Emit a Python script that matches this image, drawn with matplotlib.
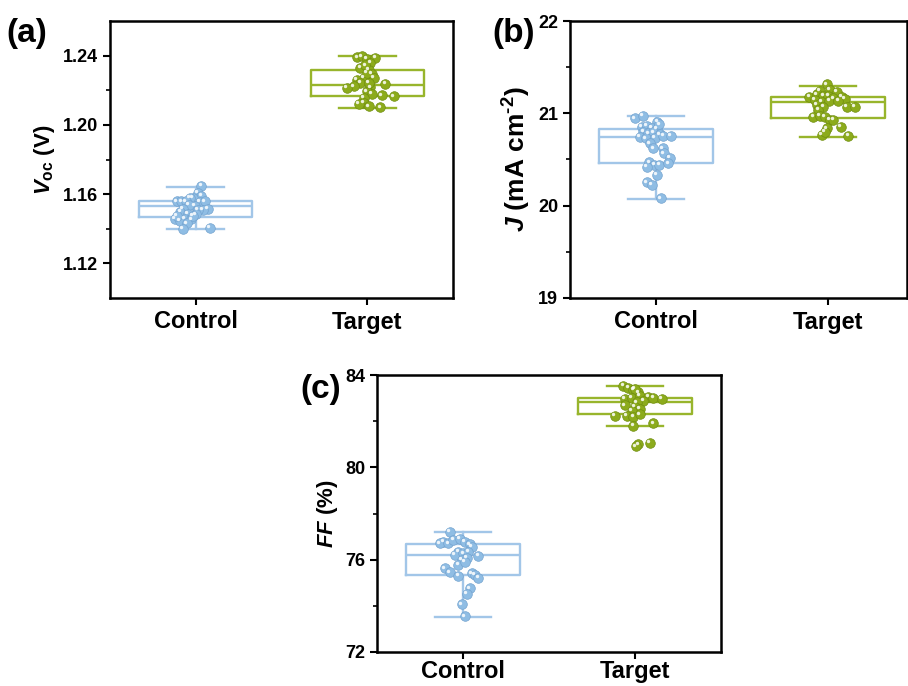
import matplotlib
matplotlib.use('Agg')
import matplotlib.pyplot as plt
import matplotlib.transforms as mtransforms
from matplotlib.ticker import FormatStrFormatter
import numpy as np

plt.rcParams['font.family'] = ['Liberation Sans', 'DejaVu Sans']
plt.rcParams['font.weight'] = 'bold'
plt.rcParams['mathtext.fontset'] = 'custom'
plt.rcParams['mathtext.rm'] = 'Liberation Sans:bold'
plt.rcParams['mathtext.it'] = 'Liberation Sans:bold:italic'
plt.rcParams['mathtext.bf'] = 'Liberation Sans:bold'

groups = ['Control', 'Target']

# (a) Voc, values and horizontal jitter
voc_ctrl = [1.1646, 1.1608, 1.1592, 1.1579, 1.1579, 1.1559, 1.1559, 1.1559, 1.1554, 1.1559,
            1.1534, 1.1540, 1.1515, 1.1515, 1.1508, 1.1511, 1.1496, 1.1488, 1.1483, 1.1459,
            1.1458, 1.1454, 1.1444, 1.1431, 1.1400, 1.1406, 1.1473, 1.1473]
voc_ctrl_dx = [0.033, 0.014, 0.033, -0.016, -0.035, -0.109, -0.084, -0.058, 0.023, 0.053,
               -0.006, -0.039, -0.074, 0.072, 0.043, 0.014, -0.090, -0.045, 0.0, -0.123,
               -0.064, -0.025, -0.094, -0.051, -0.074, 0.082, -0.016, -0.109]
voc_targ = [1.2390, 1.2396, 1.2383, 1.2387, 1.2358, 1.2329, 1.2319, 1.2294, 1.2271, 1.2262,
            1.2271, 1.2242, 1.2237, 1.2223, 1.2214, 1.2217, 1.2194, 1.2179, 1.2156, 1.2171,
            1.2165, 1.2127, 1.2121, 1.2107, 1.2102, 1.2344, 1.2300, 1.2242]
voc_targ_dx = [-0.057, -0.031, -0.002, 0.047, 0.018, -0.041, 0.008, 0.027, -0.021, -0.060,
               0.037, -0.041, 0.105, -0.080, -0.119, 0.018, -0.002, 0.027, -0.021, 0.086,
               0.154, -0.021, -0.051, 0.008, 0.076, -0.012, -0.002, 0.008]
# whislo, q1, median, q3, whishi
voc_box = [[1.1400, 1.1468, 1.1532, 1.1563, 1.1641],
           [1.2100, 1.2166, 1.2233, 1.2316, 1.2400]]

# (b) Jsc
j_ctrl = [20.947, 20.976, 20.910, 20.856, 20.867, 20.845, 20.831, 20.882, 20.802, 20.785,
          20.795, 20.774, 20.748, 20.730, 20.737, 20.759, 20.759, 20.676, 20.622, 20.622,
          20.568, 20.521, 20.471, 20.442, 20.423, 20.442, 20.460, 20.333, 20.254, 20.225,
          20.081]
j_ctrl_dx = [-0.122, -0.078, 0.008, -0.083, -0.054, -0.025, 0.004, 0.019, -0.074, -0.045,
             -0.016, 0.023, -0.093, -0.058, -0.006, 0.043, 0.085, -0.035, -0.016, 0.039,
             0.047, 0.081, -0.039, -0.010, -0.054, 0.019, 0.072, 0.004, -0.054, -0.025,
             0.027]
j_targ = [21.315, 21.242, 21.253, 21.235, 21.181, 21.207, 21.192, 21.192, 21.163, 21.181,
          21.156, 21.145, 21.127, 21.134, 21.134, 21.073, 21.073, 21.091, 21.073, 21.037,
          20.964, 20.975, 20.964, 20.929, 20.929, 20.839, 20.856, 20.766, 20.755, 20.802]
j_targ_dx = [-0.008, -0.047, 0.012, 0.050, -0.109, -0.066, -0.027, 0.002, 0.031, 0.080,
             0.099, -0.076, -0.037, 0.008, 0.060, 0.109, 0.157, -0.066, -0.027, -0.056,
             -0.085, -0.047, -0.017, 0.012, 0.031, -0.008, 0.074, -0.037, 0.118, -0.017]
j_box = [[20.074, 20.460, 20.748, 20.828, 20.972],
         [20.748, 20.947, 21.127, 21.174, 21.297]]

# (c) FF
ff_ctrl = [77.21, 76.78, 76.71, 76.71, 76.85, 76.89, 76.78, 76.66, 76.56, 76.35,
           76.20, 76.27, 76.35, 75.99, 76.09, 76.17, 75.77, 75.92, 75.63, 75.45,
           75.31, 75.41, 75.34, 75.20, 74.76, 74.51, 74.07, 73.54]
ff_ctrl_dx = [-0.076, -0.114, -0.134, -0.085, -0.056, -0.017, 0.012, 0.041, 0.050, -0.027,
              -0.047, 0.002, 0.031, -0.008, 0.021, 0.089, -0.027, 0.012, -0.105, -0.076,
              -0.027, 0.050, 0.070, 0.089, 0.041, 0.021, -0.008, 0.012]
ff_targ = [83.54, 83.44, 83.35, 83.25, 83.40, 82.96, 83.01, 83.11, 83.04, 83.01,
           82.96, 82.89, 82.82, 82.68, 82.61, 82.53, 82.46, 82.24, 82.24, 82.20,
           82.29, 81.81, 81.91, 80.99, 81.05, 80.91]
ff_targ_dx = [-0.068, -0.039, -0.010, 0.019, 0.0, -0.058, -0.019, 0.029, 0.078, 0.107,
              0.155, 0.048, 0.010, -0.058, 0.0, 0.029, -0.019, -0.116, -0.048, -0.010,
              0.029, -0.010, 0.107, 0.019, 0.087, 0.006]
ff_box = [[73.51, 75.34, 76.20, 76.68, 77.18],
          [81.79, 82.32, 82.85, 83.01, 83.54]]

box_colors = ['#a2c6e8', '#98b52c']
dot_colors = ['#8fbde4', '#8cab1c']
dot_edges = ['#74a3cf', '#708e10']

fig = plt.figure(figsize=(9.08, 6.86), dpi=100)


def panel(rect, xmax, data, box, ylim, major, minor, ylabel, ylsize, fmt, xpad=4):
    ax = fig.add_axes(rect)
    for i, (lo, q1, med, q3, hi) in enumerate(box):
        st = dict(label=groups[i], whislo=lo, q1=q1, med=med, q3=q3, whishi=hi, fliers=[])
        lp = dict(color=box_colors[i], lw=1.7)
        ax.bxp([st], positions=[i + 1], widths=0.66, capwidths=0.33, showfliers=False,
               boxprops=lp, medianprops=lp, whiskerprops=lp, capprops=lp)
    hl = mtransforms.offset_copy(ax.transData, fig=fig, x=-1.2, y=1.2, units='points')
    for i, (vals, dx) in enumerate(data):
        x = i + 1 + np.array(dx)
        ax.scatter(x, vals, s=48, color=dot_colors[i], edgecolor=dot_edges[i],
                   linewidths=0.5, zorder=3)
        ax.scatter(x, vals, s=6, color='white', alpha=0.85, linewidths=0,
                   transform=hl, zorder=4)
    ax.set_xlim(0.5, xmax)
    ax.set_ylim(*ylim)
    ax.set_xticks([1, 2])
    ax.set_xticklabels(groups, fontsize=17, fontweight='bold')
    ax.set_yticks(major)
    ax.set_yticks(minor, minor=True)
    ax.yaxis.set_major_formatter(FormatStrFormatter(fmt))
    ax.tick_params(axis='both', which='major', direction='out', length=5, width=1.5,
                   labelsize=13)
    ax.tick_params(axis='x', labelsize=17, pad=xpad)
    ax.tick_params(axis='y', which='minor', direction='out', length=3, width=1.2)
    for sp in ax.spines.values():
        sp.set_linewidth(1.8)
    ax.set_ylabel(ylabel, fontsize=ylsize, fontweight='bold')
    return ax


ax_a = panel([110 / 908, 1 - 298 / 686, 343 / 908, 277 / 686], 2.5,
             [(voc_ctrl, voc_ctrl_dx), (voc_targ, voc_targ_dx)], voc_box,
             (1.10, 1.26), [1.12, 1.16, 1.20, 1.24], [1.14, 1.18, 1.22],
             r'$V_{\mathrm{oc}}$ (V)', 16, '%.2f')
ax_b = panel([570 / 908, 1 - 298 / 686, 337 / 908, 277 / 686], 2.46,
             [(j_ctrl, j_ctrl_dx), (j_targ, j_targ_dx)], j_box,
             (19, 22), [19, 20, 21, 22], [19.5, 20.5, 21.5],
             r'$J$ (mA cm$^{\text{-2}}$)', 19, '%d')
ax_c = panel([377 / 908, 1 - 652 / 686, 344 / 908, 277 / 686], 2.5,
             [(ff_ctrl, ff_ctrl_dx), (ff_targ, ff_targ_dx)], ff_box,
             (72, 84), [72, 76, 80, 84], [74, 78, 82],
             r'$FF$ (%)', 16, '%d', xpad=1)

fig.text(6 / 908, 1 - 18 / 686, '(a)', fontsize=24, fontweight='bold', va='top', ha='left')
fig.text(492 / 908, 1 - 18 / 686, '(b)', fontsize=24, fontweight='bold', va='top', ha='left')
fig.text(300 / 908, 1 - 374 / 686, '(c)', fontsize=24, fontweight='bold', va='top', ha='left')

fig.savefig('out.png', dpi=100)
